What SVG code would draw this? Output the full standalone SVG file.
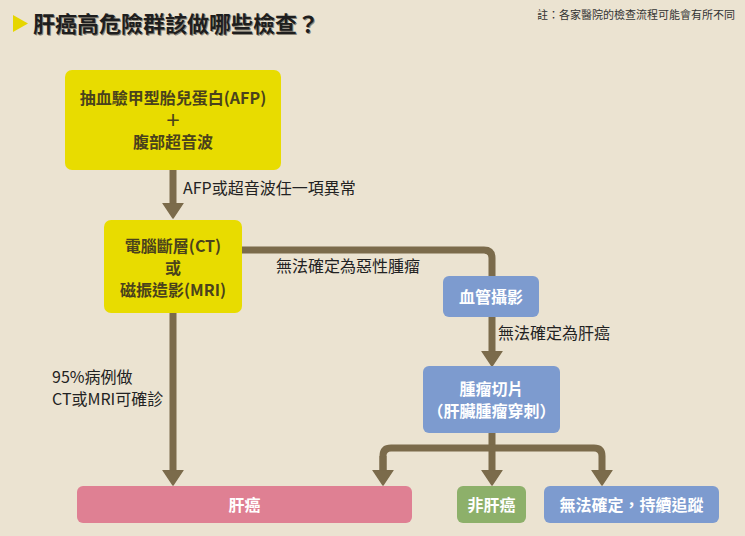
<svg xmlns="http://www.w3.org/2000/svg" width="745" height="536" viewBox="0 0 745 536">
<defs>
<style>
.bg{fill:#ebe3d1}
.conn{fill:none;stroke:#7b6b4b;stroke-width:7;stroke-linecap:butt;stroke-linejoin:round}
.yel{fill:#e8dc00}
.blue{fill:#7d9bcf}
.pink{fill:#df8093}
.green{fill:#8db06a}
.t{font-family:"Noto Sans CJK TC","Noto Sans CJK SC",sans-serif;text-anchor:middle}
.ty{font-size:16px;font-weight:bold;fill:#4a421c}
.tw{font-size:16px;font-weight:bold;fill:#ffffff}
.lbl{font-family:"Noto Sans CJK TC","Noto Sans CJK SC",sans-serif;font-size:16px;fill:#222222}
</style>
<marker id="ah" markerUnits="userSpaceOnUse" markerWidth="17" markerHeight="22" viewBox="0 -11 17 22" refX="1" refY="0" orient="auto">
<path d="M0,-10 L15,0 L0,10 Z" fill="#7b6b4b" stroke="#7b6b4b" stroke-width="1.5" stroke-linejoin="round"/>
</marker>
</defs>
<rect class="bg" x="0" y="0" width="745" height="536"/>
<g id="title">
<polygon points="13,15 28,23.5 13,32" fill="#e6d600"/>
<text x="34" y="33" font-family="'Noto Sans CJK TC','Noto Sans CJK SC',sans-serif" font-size="22" font-weight="bold" fill="#8a8476">肝癌高危險群該做哪些檢查？</text>
<text x="33" y="32" font-family="'Noto Sans CJK TC','Noto Sans CJK SC',sans-serif" font-size="22" font-weight="bold" fill="#1e1e1e">肝癌高危險群該做哪些檢查？</text>
<text x="735" y="19" text-anchor="end" font-family="'Noto Sans CJK TC','Noto Sans CJK SC',sans-serif" font-size="11" fill="#333333">註：各家醫院的檢查流程可能會有所不同</text>
</g>
<g id="connectors">
<path class="conn" d="M173,170 L173,204" marker-end="url(#ah)"/>
<path class="conn" d="M242,250 L484,250 Q492,250 492,258 L492,278"/>
<path class="conn" d="M492,317 L492,352" marker-end="url(#ah)"/>
<path class="conn" d="M173,313 L173,471" marker-end="url(#ah)"/>
<path class="conn" d="M492,433 L492,471" marker-end="url(#ah)"/>
<path class="conn" d="M383,471 L383,456 Q383,448 391,448 L594,448 Q602,448 602,456 L602,471" marker-end="url(#ah)"/>
<path class="conn" d="M383,456 L383,471" marker-end="url(#ah)"/>
</g>
<g id="labels">
<text class="lbl" x="183" y="194">AFP或超音波任一項異常</text>
<text class="lbl" x="276" y="272">無法確定為惡性腫瘤</text>
<text class="lbl" x="498" y="339">無法確定為肝癌</text>
<text class="lbl"><tspan x="52" y="383">95%病例做</tspan><tspan x="52" y="405">CT或MRI可確診</tspan></text>
</g>
<g id="node-afp">
<rect class="yel" x="65" y="70" width="216" height="100" rx="7"/>
<text class="t ty"><tspan x="173" y="104">抽血驗甲型胎兒蛋白(AFP)</tspan><tspan x="173" y="126">＋</tspan><tspan x="173" y="148">腹部超音波</tspan></text>
</g>
<g id="node-ct">
<rect class="yel" x="104" y="220" width="138" height="93" rx="7"/>
<text class="t ty"><tspan x="173" y="252">電腦斷層(CT)</tspan><tspan x="173" y="274">或</tspan><tspan x="173" y="296">磁振造影(MRI)</tspan></text>
</g>
<g id="node-angio">
<rect class="blue" x="443" y="276" width="96" height="41" rx="6"/>
<text class="t tw" x="491" y="303">血管攝影</text>
</g>
<g id="node-biopsy">
<rect class="blue" x="423" y="366" width="137" height="67" rx="6"/>
<text class="t tw"><tspan x="491.5" y="395">腫瘤切片</tspan><tspan x="491.5" y="417">（肝臟腫瘤穿刺）</tspan></text>
</g>
<g id="node-hcc">
<rect class="pink" x="77" y="486" width="335" height="37" rx="6"/>
<text class="t tw" x="244.5" y="511">肝癌</text>
</g>
<g id="node-nonhcc">
<rect class="green" x="457" y="486" width="69" height="37" rx="6"/>
<text class="t tw" x="491.5" y="511">非肝癌</text>
</g>
<g id="node-followup">
<rect class="blue" x="544" y="486" width="175" height="37" rx="6"/>
<text class="t tw" x="631.5" y="511">無法確定，持續追蹤</text>
</g>
</svg>
